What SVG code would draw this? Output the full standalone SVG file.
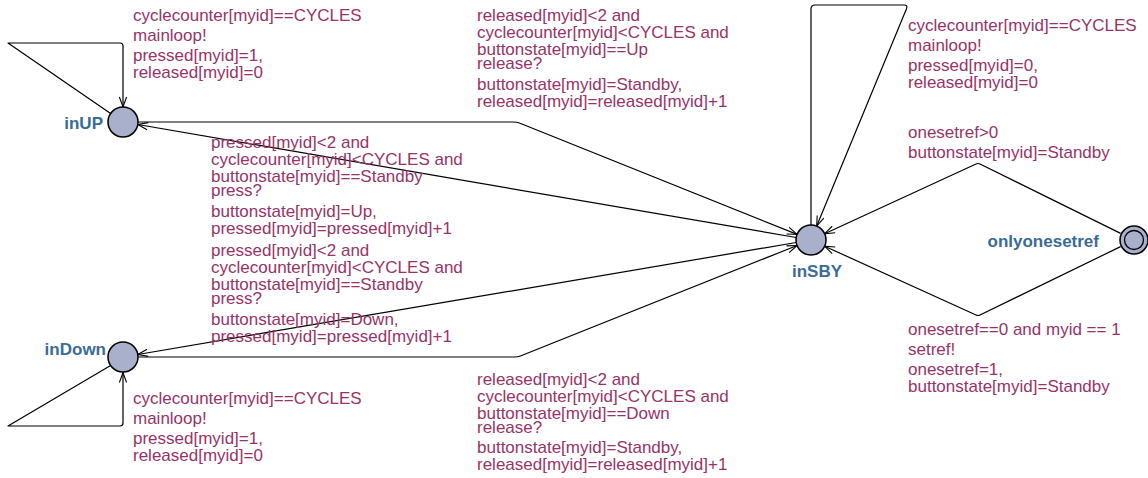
<svg xmlns="http://www.w3.org/2000/svg" width="1148" height="478" viewBox="0 0 1148 478">
<style>
.loc{fill:#a8b0cc;stroke:#000;stroke-width:1.5}
.nm{font-family:"Liberation Sans",Arial,sans-serif;font-size:17px;font-weight:bold;fill:#3a6b96}
.lb{font-family:"Liberation Sans",Arial,sans-serif;font-size:17px;fill:#993366}
.e{fill:none;stroke:#000;stroke-width:1.2;stroke-linejoin:round;marker-end:url(#arr)}
</style>
<defs>
<marker id="arr" markerUnits="userSpaceOnUse" markerWidth="20" markerHeight="20" refX="0" refY="0" orient="auto" overflow="visible">
<path d="M-10,-3.6 L0,0 L-10,3.6" fill="none" stroke="#000" stroke-width="1.1"/>
</marker>
</defs>
<rect width="1148" height="478" fill="#fff"/>
<g id="connectors">
<path id="loopUP" class="e" d="M110.6,113.5 L8,43 L120,43 Q123,43 123,46 L123,107"/>
<path id="loopDown" class="e" d="M110.6,365.5 L8,426 L120,426 Q123,426 123,423 L123,372.5"/>
<path id="relUp" class="e" d="M138,122 L513,122 Q517,122 520,123.3 L797.1,234.4"/>
<path id="pressUp" class="e" d="M796.2,237.5 L137.8,124.5"/>
<path id="pressDown" class="e" d="M796.2,242.5 L137.8,354.5"/>
<path id="relDown" class="e" d="M138,357 L514,357 Q518,357 521,355.7 L797.1,245.5"/>
<path id="loopSBY" class="e" d="M811,225 L811,9 Q811,5 815,5 L904,5 Q908,5 906.5,8.7 L816.7,226.1"/>
<path id="setUpper" class="e" d="M1120.6,233.4 L980,164 Q978,163 976,164 L824.6,233.7"/>
<path id="setLower" class="e" d="M1120.6,246.6 L980,315 Q978,316 976,315 L824.6,246.2"/>
</g>
<g id="inUP">
<circle class="loc" cx="123" cy="122" r="15"/>
<text class="nm" x="103" y="129" text-anchor="end">inUP</text>
</g>
<g id="inDown">
<circle class="loc" cx="123" cy="357" r="15"/>
<text class="nm" x="106" y="355" text-anchor="end">inDown</text>
</g>
<g id="inSBY">
<circle class="loc" cx="811" cy="240" r="15"/>
<text class="nm" x="792" y="277">inSBY</text>
</g>
<g id="onlyonesetref">
<circle class="loc" cx="1134" cy="240" r="14"/>
<circle fill="none" stroke="#000" stroke-width="1.3" cx="1134" cy="240" r="9.5"/>
<text class="nm" x="1099" y="247" text-anchor="end">onlyonesetref</text>
</g>
<g id="labels">
<text class="lb" x="133" y="21">cyclecounter[myid]==CYCLES</text>
<text class="lb" x="133" y="41">mainloop!</text>
<text class="lb" x="133" y="61">pressed[myid]=1,</text>
<text class="lb" x="133" y="78">released[myid]=0</text>

<text class="lb" x="477" y="21">released[myid]&lt;2 and</text>
<text class="lb" x="477" y="38">cyclecounter[myid]&lt;CYCLES and</text>
<text class="lb" x="477" y="55">buttonstate[myid]==Up</text>
<text class="lb" x="477" y="69">release?</text>
<text class="lb" x="477" y="90">buttonstate[myid]=Standby,</text>
<text class="lb" x="477" y="107">released[myid]=released[myid]+1</text>

<text class="lb" x="211" y="148">pressed[myid]&lt;2 and</text>
<text class="lb" x="211" y="165">cyclecounter[myid]&lt;CYCLES and</text>
<text class="lb" x="211" y="182">buttonstate[myid]==Standby</text>
<text class="lb" x="211" y="196">press?</text>
<text class="lb" x="211" y="217">buttonstate[myid]=Up,</text>
<text class="lb" x="211" y="234">pressed[myid]=pressed[myid]+1</text>

<text class="lb" x="211" y="256">pressed[myid]&lt;2 and</text>
<text class="lb" x="211" y="273">cyclecounter[myid]&lt;CYCLES and</text>
<text class="lb" x="211" y="290">buttonstate[myid]==Standby</text>
<text class="lb" x="211" y="304">press?</text>
<text class="lb" x="211" y="325">buttonstate[myid]=Down,</text>
<text class="lb" x="211" y="342">pressed[myid]=pressed[myid]+1</text>

<text class="lb" x="133" y="404">cyclecounter[myid]==CYCLES</text>
<text class="lb" x="133" y="424">mainloop!</text>
<text class="lb" x="133" y="444">pressed[myid]=1,</text>
<text class="lb" x="133" y="461">released[myid]=0</text>

<text class="lb" x="477" y="385">released[myid]&lt;2 and</text>
<text class="lb" x="477" y="402">cyclecounter[myid]&lt;CYCLES and</text>
<text class="lb" x="477" y="419">buttonstate[myid]==Down</text>
<text class="lb" x="477" y="433">release?</text>
<text class="lb" x="477" y="453">buttonstate[myid]=Standby,</text>
<text class="lb" x="477" y="470">released[myid]=released[myid]+1</text>

<text class="lb" x="908" y="31">cyclecounter[myid]==CYCLES</text>
<text class="lb" x="908" y="51">mainloop!</text>
<text class="lb" x="908" y="71">pressed[myid]=0,</text>
<text class="lb" x="908" y="88">released[myid]=0</text>

<text class="lb" x="908" y="138">onesetref&gt;0</text>
<text class="lb" x="908" y="158">buttonstate[myid]=Standby</text>

<text class="lb" x="908" y="335">onesetref==0 and myid == 1</text>
<text class="lb" x="908" y="355">setref!</text>
<text class="lb" x="908" y="375">onesetref=1,</text>
<text class="lb" x="908" y="392">buttonstate[myid]=Standby</text>
</g>
</svg>
